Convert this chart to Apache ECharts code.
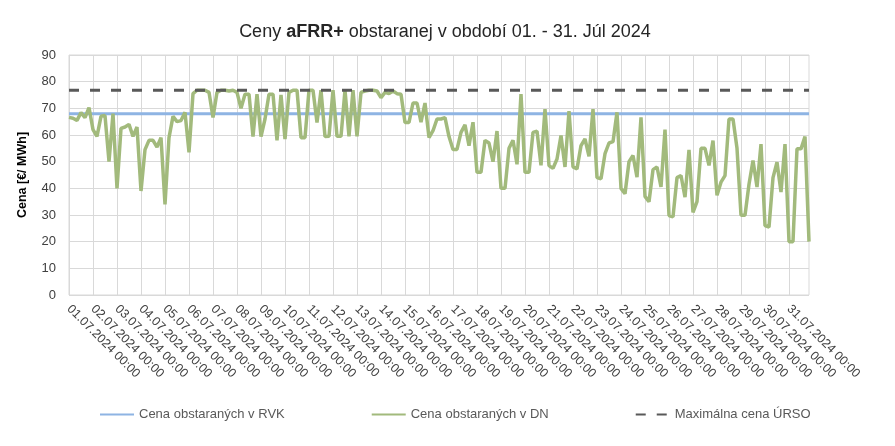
<!DOCTYPE html>
<html>
<head>
<meta charset="utf-8">
<script src="https://cdn.jsdelivr.net/npm/echarts@6/dist/echarts.min.js"></script>
<style>
  html, body { margin: 0; padding: 0; background: #fff; }
  #chart { width: 895px; height: 446px; }
</style>
</head>
<body>
<div id="chart"></div>
<script>
// 4-hour slots, 6 per day, 01.07 - 31.07.2024
const days = [
  "01", "02", "03", "04", "05", "06", "07", "08", "09", "10", "11",
  "12", "13", "14", "15", "16", "17", "18", "19", "20", "21", "22",
  "23", "24", "25", "26", "27", "28", "29", "30", "31",
];
const hours = ["00:00", "04:00", "08:00", "12:00", "16:00", "20:00"];

// Cena obstaraných v DN (€/MWh), one row per day
const dnPrices = [
  66.6, 66.3, 65.5, 68.4, 66.5, 70.3,
  62, 59.5, 67, 67.3, 50, 68,
  40, 62.5, 63, 64, 59.5, 63,
  39, 54.5, 58, 58, 55.5, 59,
  34, 59, 67, 65, 65.4, 68.5,
  53.5, 75.5, 76.8, 76.8, 76.8, 76,
  66.6, 76, 76.8, 76.8, 76.5, 76.8,
  76, 70, 75.3, 75.3, 59.4, 75.3,
  59.4, 66, 75.3, 75.3, 58, 75,
  58.5, 76, 76.8, 76.8, 59, 59,
  76.8, 76.8, 64.7, 76.8, 59.4, 59.5,
  76.8, 59.5, 59.5, 76.8, 59.5, 76.8,
  59.5, 76, 76.5, 76.8, 76.8, 76.5,
  74, 76, 75.5, 76.5, 75.5, 75.3,
  64.7, 64.7, 72, 72, 64.8, 72,
  59, 61.6, 66, 66, 66.5, 59.4,
  54.6, 54.6, 61, 63.8, 56, 64.8,
  46, 46, 58, 57, 50, 61.5,
  40, 40, 55, 58, 49, 75.3,
  46, 46, 61, 61.4, 48.6, 69.7,
  48.5, 47.5, 51, 59.8, 48, 69,
  48, 47.3, 56, 58.5, 52, 69.7,
  44, 43.6, 53, 57, 57.5, 68.5,
  40, 38, 50, 52.3, 44.2, 66.6,
  37, 35, 47, 48, 40.5, 62,
  29.8, 29.3, 44, 44.8, 36.7, 54.4,
  31, 35, 55, 55, 48.6, 57.9,
  37.4, 42.3, 44.8, 66, 66, 55,
  29.9, 29.9, 41.5, 50.4, 40.5, 56.6,
  26, 25.5, 44, 49.8, 38.6, 56.6,
  20, 20, 54.8, 54.8, 59.4, 20,
];

const rvkPrice = 68; // Cena obstaraných v RVK
const maxPrice = 76.8; // Maximálna cena ÚRSO

const yTicks = { min: 0, max: 90, step: 10 };

const categories = [];
days.forEach((d) => {
  hours.forEach((h) => categories.push(d + ".07.2024 " + h));
});
const rvkLine = categories.map(() => rvkPrice);
const maxLine = categories.map(() => maxPrice);

const FONT = "Liberation Sans";
const GRID = "#d9d9d9";
const dayStart = (index) => index % hours.length === 0;

const chart = echarts.init(document.getElementById("chart"));
chart.setOption({
  animation: false,
  textStyle: { fontFamily: FONT },
  title: {
    text: "{n|Ceny }{b|aFRR+}{n| obstaranej v období 01. - 31. Júl 2024}",
    left: 440,
    textAlign: "center",
    top: 18,
    textStyle: {
      rich: {
        n: { fontSize: 18, color: "#262626", fontWeight: "normal", fontFamily: FONT },
        b: { fontSize: 18, color: "#262626", fontWeight: "bold", fontFamily: FONT },
      },
    },
  },
  grid: {
    left: 69,
    right: 86,
    top: 55,
    bottom: 151,
    show: true,
    borderColor: GRID,
    borderWidth: 1,
  },
  legend: {
    left: 99,
    top: 408,
    padding: 0,
    itemWidth: 34,
    itemHeight: 10,
    itemGap: 86,
    itemStyle: { opacity: 0 },
    textStyle: { fontSize: 13, color: "#595959", fontFamily: FONT },
    data: ["Cena obstaraných v RVK", "Cena obstaraných v DN", "Maximálna cena ÚRSO"],
  },
  xAxis: {
    type: "category",
    data: categories,
    boundaryGap: false,
    axisLine: { show: false },
    axisTick: { show: false },
    axisLabel: {
      interval: (index) => dayStart(index),
      rotate: -45,
      margin: 12,
      fontSize: 12.5,
      color: "#404040",
      fontFamily: FONT,
    },
    splitLine: {
      show: true,
      interval: (index) => dayStart(index),
      lineStyle: { color: GRID, width: 1 },
    },
  },
  yAxis: {
    type: "value",
    min: yTicks.min,
    max: yTicks.max,
    interval: yTicks.step,
    name: "Cena [€/ MWh]",
    nameLocation: "middle",
    nameGap: 40,
    nameTextStyle: { fontSize: 12.5, fontWeight: "bold", color: "#000", fontFamily: FONT },
    axisLine: { show: false },
    axisTick: { show: false },
    axisLabel: { fontSize: 13, color: "#404040", margin: 13, fontFamily: FONT },
    splitLine: { lineStyle: { color: GRID, width: 1 } },
  },
  series: [
    {
      name: "Cena obstaraných v RVK",
      type: "line",
      data: rvkLine,
      symbol: "none",
      lineStyle: { color: "#8eb4e3", width: 3 },
      itemStyle: { color: "#8eb4e3" },
      z: 2,
    },
    {
      name: "Cena obstaraných v DN",
      type: "line",
      data: dnPrices,
      symbol: "none",
      lineStyle: { color: "#a2ba7c", width: 3.5 },
      itemStyle: { color: "#a2ba7c" },
      z: 3,
    },
    {
      name: "Maximálna cena ÚRSO",
      type: "line",
      data: maxLine,
      symbol: "none",
      lineStyle: { color: "#595959", width: 3, type: [10, 11] },
      itemStyle: { color: "#595959" },
      z: 4,
    },
  ],
});
</script>
</body>
</html>
